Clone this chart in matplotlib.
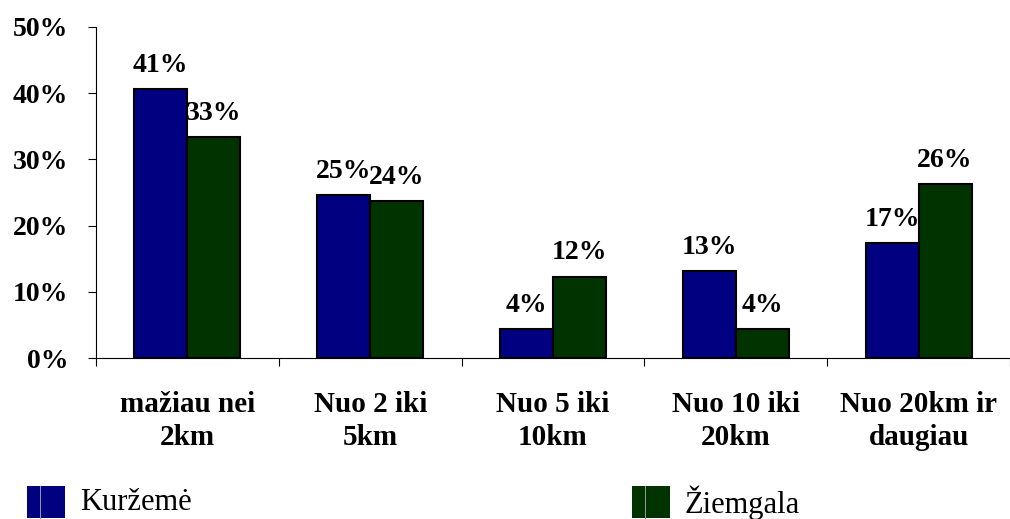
import numpy as np
import matplotlib.pyplot as plt
from matplotlib.patches import Rectangle
from matplotlib.lines import Line2D

categories = ['mažiau nei\n2km', 'Nuo 2 iki\n5km', 'Nuo 5 iki\n10km',
              'Nuo 10 iki\n20km', 'Nuo 20km ir\ndaugiau']
kurzeme = [40.6, 24.6, 4.4, 13.1, 17.4]
ziemgala = [33.3, 23.7, 12.3, 4.4, 26.3]
series_names = ['Kuržemė', 'Žiemgala']
yticks = [0, 10, 20, 30, 40, 50]

plt.rcParams['font.family'] = ['Liberation Serif', 'DejaVu Serif']

fig = plt.figure(figsize=(10.10, 5.19), dpi=100)
ax = fig.add_axes([0.095, 0.3102, 0.905, 0.638])

x = np.arange(len(categories))
w = 0.29
b1 = ax.bar(x - w / 2, kurzeme, w, color='#000080', edgecolor='black', linewidth=1.5)
b2 = ax.bar(x + w / 2, ziemgala, w, color='#003300', edgecolor='black', linewidth=1.5)

for bars, vals in ((b1, kurzeme), (b2, ziemgala)):
    for r, v in zip(bars, vals):
        ax.annotate(f'{round(v):d}%', (r.get_x() + r.get_width() / 2, v),
                    xytext=(0, 17), textcoords='offset points',
                    ha='center', va='center', fontsize=20, fontweight='bold')

ax.set_xlim(-0.5, 4.5)
ax.set_ylim(0, 50)
ax.set_yticks(yticks)
ax.set_yticklabels([f'{t}%' for t in yticks], fontsize=20, fontweight='bold')
ax.set_xticks(x)
ax.set_xticklabels(categories, fontsize=21, fontweight='bold', linespacing=1.25)
ax.set_xticks(np.arange(-0.5, 4.6, 1), minor=True)
ax.tick_params(axis='x', which='major', length=0, pad=24)
ax.tick_params(axis='x', which='minor', length=6, direction='out', width=0.8)
ax.tick_params(axis='y', length=6, direction='out', width=0.8, pad=14)
for s in ('top', 'right'):
    ax.spines[s].set_visible(False)
ax.spines['left'].set_linewidth(0.8)
ax.spines['bottom'].set_linewidth(0.8)

# legend along the bottom
for x0, col, name in ((27, '#000080', series_names[0]), (632, '#003300', series_names[1])):
    fig.patches.append(Rectangle((x0 / 1010, 1 - 518 / 519), 38 / 1010, 32 / 519,
                                 transform=fig.transFigure, facecolor=col, edgecolor='none'))
    fig.lines.append(Line2D([(x0 + 13) / 1010] * 2, [1 - 518 / 519, 1 - 486 / 519],
                            transform=fig.transFigure, color='#9a9aa0', linewidth=0.7))
    fig.text((x0 + 53) / 1010, 1 - 503 / 519, name, fontsize=22, va='center', ha='left')

fig.savefig('out.png', dpi=100)
